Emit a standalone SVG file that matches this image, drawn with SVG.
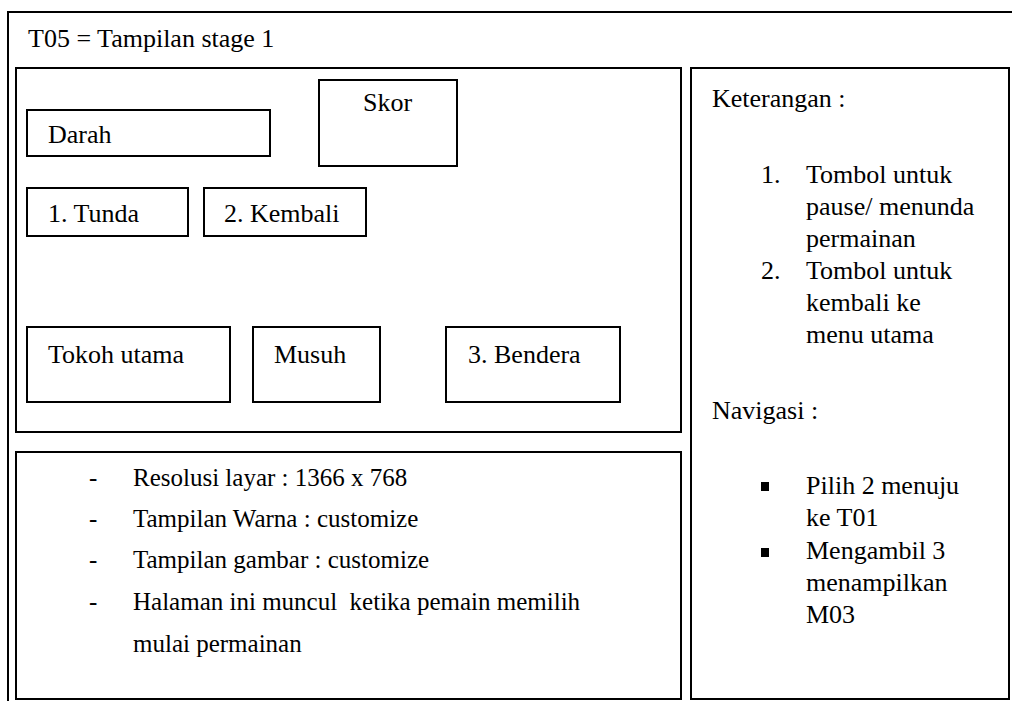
<svg xmlns="http://www.w3.org/2000/svg" width="1012" height="701" viewBox="0 0 1012 701">
  <style>
    .frame { fill: none; stroke: #000; stroke-width: 2; }
    .box { fill: #fff; stroke: #000; stroke-width: 2; }
    .t { font-family: "Times New Roman", Times, "Liberation Serif", Tinos, "Noto Serif", "DejaVu Serif", serif; font-size: 26px; fill: #000; white-space: pre; }
    .sm { font-size: 25px; }
  </style>
  <rect width="1012" height="701" fill="#fff"/>

  <!-- outer page frame (open at bottom and right) -->
  <g id="page-frame">
    <path class="frame" d="M8,701 V12 H1012"/>
    <text class="t" x="28" y="47">T05 = Tampilan stage 1</text>
  </g>

  <!-- screen area -->
  <g id="screen">
    <rect class="box" x="16" y="68" width="665" height="364"/>
  </g>
  <g id="darah">
    <rect class="box" x="27" y="110" width="243" height="46"/>
    <text class="t" x="48" y="143">Darah</text>
  </g>
  <g id="skor">
    <rect class="box" x="319" y="80" width="138" height="86"/>
    <text class="t" x="363" y="111">Skor</text>
  </g>
  <g id="tunda">
    <rect class="box" x="27" y="188" width="161" height="48"/>
    <text class="t" x="48" y="222">1. Tunda</text>
  </g>
  <g id="kembali">
    <rect class="box" x="204" y="188" width="162" height="48"/>
    <text class="t" x="224" y="222">2. Kembali</text>
  </g>
  <g id="tokoh-utama">
    <rect class="box" x="27" y="327" width="203" height="75"/>
    <text class="t" x="48" y="363">Tokoh utama</text>
  </g>
  <g id="musuh">
    <rect class="box" x="253" y="327" width="127" height="75"/>
    <text class="t" x="274" y="363">Musuh</text>
  </g>
  <g id="bendera">
    <rect class="box" x="446" y="327" width="174" height="75"/>
    <text class="t" x="468" y="363">3. Bendera</text>
  </g>

  <!-- specification panel -->
  <g id="spesifikasi">
    <rect class="box" x="16" y="452" width="665" height="247"/>
    <text class="t sm" x="89" y="486">-</text>
    <text class="t sm" x="133" y="486">Resolusi layar : 1366 x 768</text>
    <text class="t sm" x="89" y="527">-</text>
    <text class="t sm" x="133" y="527">Tampilan Warna : customize</text>
    <text class="t sm" x="89" y="568">-</text>
    <text class="t sm" x="133" y="568">Tampilan gambar : customize</text>
    <text class="t sm" x="89" y="610">-</text>
    <text class="t sm" x="133" y="610" xml:space="preserve">Halaman ini muncul  ketika pemain memilih</text>
    <text class="t sm" x="133" y="652">mulai permainan</text>
  </g>

  <!-- notes / navigation panel -->
  <g id="keterangan">
    <rect class="box" x="691" y="68" width="318" height="631"/>
    <text class="t" x="712" y="107">Keterangan :</text>
    <text class="t" x="761" y="183">1.</text>
    <text class="t" x="806" y="183">Tombol untuk</text>
    <text class="t" x="806" y="215">pause/ menunda</text>
    <text class="t" x="806" y="247">permainan</text>
    <text class="t" x="761" y="279">2.</text>
    <text class="t" x="806" y="279">Tombol untuk</text>
    <text class="t" x="806" y="311">kembali ke</text>
    <text class="t" x="806" y="343">menu utama</text>
    <text class="t" x="712" y="419">Navigasi :</text>
    <rect x="761" y="482" width="8" height="9" fill="#000"/>
    <text class="t" x="806" y="494">Pilih 2 menuju</text>
    <text class="t" x="806" y="526">ke T01</text>
    <rect x="761" y="548" width="8" height="9" fill="#000"/>
    <text class="t" x="806" y="559">Mengambil 3</text>
    <text class="t" x="806" y="591">menampilkan</text>
    <text class="t" x="806" y="623">M03</text>
  </g>
</svg>
